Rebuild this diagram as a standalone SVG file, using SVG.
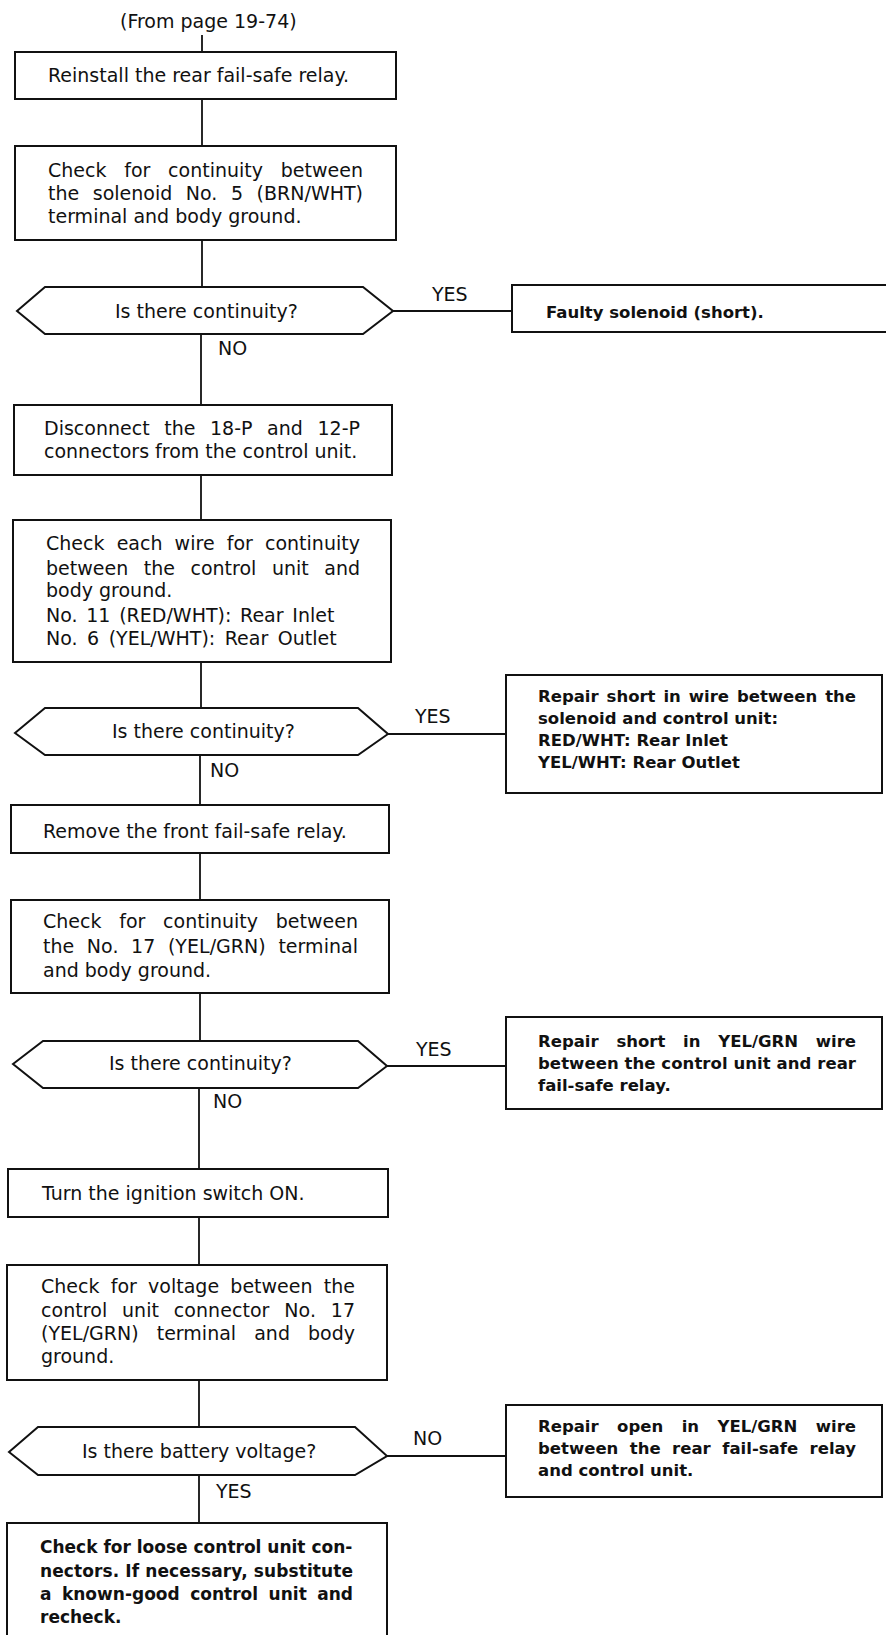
<svg xmlns="http://www.w3.org/2000/svg" width="886" height="1635" viewBox="0 0 886 1635">
<style>
.bx{fill:#fff;stroke:#111;stroke-width:2}
.op{fill:none;stroke:#111;stroke-width:2}
.cn{fill:none;stroke:#111;stroke-width:1.8}
text{font-family:"DejaVu Sans","Liberation Sans",Arial,sans-serif;fill:#111}
.t{font-size:19px}
.b{font-size:16.5px;font-weight:bold}
.bb{font-size:17px;font-weight:bold}
.l{font-size:19px}
</style>
<rect width="886" height="1635" fill="#fff"/>
<g id="connectors">
<line class="cn" x1="202" y1="35" x2="202" y2="52"/>
<line class="cn" x1="202" y1="99" x2="202" y2="146"/>
<line class="cn" x1="202" y1="240" x2="202" y2="287"/>
<line class="cn" x1="393" y1="311" x2="512" y2="311"/>
<line class="cn" x1="201" y1="334" x2="201" y2="405"/>
<line class="cn" x1="201" y1="475" x2="201" y2="520"/>
<line class="cn" x1="201" y1="662" x2="201" y2="708"/>
<line class="cn" x1="388" y1="734" x2="506" y2="734"/>
<line class="cn" x1="200" y1="755" x2="200" y2="805"/>
<line class="cn" x1="200" y1="853" x2="200" y2="900"/>
<line class="cn" x1="200" y1="993" x2="200" y2="1041"/>
<line class="cn" x1="387" y1="1066" x2="506" y2="1066"/>
<line class="cn" x1="199" y1="1088" x2="199" y2="1169"/>
<line class="cn" x1="199" y1="1217" x2="199" y2="1265"/>
<line class="cn" x1="199" y1="1380" x2="199" y2="1427"/>
<line class="cn" x1="387" y1="1456" x2="506" y2="1456"/>
<line class="cn" x1="199" y1="1475" x2="199" y2="1523"/>
<text class="l" x="432" y="301">YES</text>
<text class="l" x="218" y="355">NO</text>
<text class="l" x="415" y="723">YES</text>
<text class="l" x="210" y="777">NO</text>
<text class="l" x="416" y="1056">YES</text>
<text class="l" x="213" y="1108">NO</text>
<text class="l" x="413" y="1445">NO</text>
<text class="l" x="216" y="1498">YES</text>
</g>
<g id="start">
<text class="t" x="120" y="28">(From page 19-74)</text>
</g>
<g id="n1">
<rect class="bx" x="15" y="52" width="381" height="47"/>
<text class="t" x="48" y="82">Reinstall the rear fail-safe relay.</text>
</g>
<g id="n2">
<rect class="bx" x="15" y="146" width="381" height="94"/>
<text class="t" x="48" y="177" word-spacing="11.7" textLength="315" lengthAdjust="spacing">Check for continuity between</text>
<text class="t" x="48" y="200" word-spacing="7.5" textLength="315" lengthAdjust="spacing">the solenoid No. 5 (BRN/WHT)</text>
<text class="t" x="48" y="223">terminal and body ground.</text>
</g>
<g id="d1">
<polygon class="bx" points="17,311 45,287 363,287 393,311 363,334 45,334"/>
<text class="t" x="115" y="318">Is there continuity?</text>
</g>
<g id="r1">
<path class="op" d="M890,285 H512 V332 H890"/>
<text class="b" x="546" y="318">Faulty solenoid (short).</text>
</g>
<g id="n3">
<rect class="bx" x="14" y="405" width="378" height="70"/>
<text class="t" x="44" y="435" word-spacing="8.5" textLength="316" lengthAdjust="spacing">Disconnect the 18-P and 12-P</text>
<text class="t" x="44" y="458">connectors from the control unit.</text>
</g>
<g id="n4">
<rect class="bx" x="13" y="520" width="378" height="142"/>
<text class="t" x="46" y="550" word-spacing="6" textLength="314" lengthAdjust="spacing">Check each wire for continuity</text>
<text class="t" x="46" y="575" word-spacing="9.5" textLength="314" lengthAdjust="spacing">between the control unit and</text>
<text class="t" x="46" y="597">body ground.</text>
<text class="t" x="46" y="622" word-spacing="2.7">No. 11 (RED/WHT): Rear Inlet</text>
<text class="t" x="46" y="645" word-spacing="3.5">No. 6 (YEL/WHT): Rear Outlet</text>
</g>
<g id="d2">
<polygon class="bx" points="15,733 45,708 358,708 388,734 358,755 45,755"/>
<text class="t" x="112" y="738">Is there continuity?</text>
</g>
<g id="r2">
<rect class="bx" x="506" y="675" width="376" height="118"/>
<text class="b" x="538" y="702" word-spacing="2.2" textLength="318" lengthAdjust="spacing">Repair short in wire between the</text>
<text class="b" x="538" y="724">solenoid and control unit:</text>
<text class="b" x="538" y="746">RED/WHT: Rear Inlet</text>
<text class="b" x="538" y="768">YEL/WHT: Rear Outlet</text>
</g>
<g id="n5">
<rect class="bx" x="11" y="805" width="378" height="48"/>
<text class="t" x="43" y="838">Remove the front fail-safe relay.</text>
</g>
<g id="n6">
<rect class="bx" x="11" y="900" width="378" height="93"/>
<text class="t" x="43" y="928" word-spacing="11.7" textLength="315" lengthAdjust="spacing">Check for continuity between</text>
<text class="t" x="43" y="953" word-spacing="6.5" textLength="315" lengthAdjust="spacing">the No. 17 (YEL/GRN) terminal</text>
<text class="t" x="43" y="977">and body ground.</text>
</g>
<g id="d3">
<polygon class="bx" points="13,1064 43,1041 358,1041 387,1066 358,1088 43,1088"/>
<text class="t" x="109" y="1070">Is there continuity?</text>
</g>
<g id="r3">
<rect class="bx" x="506" y="1017" width="376" height="92"/>
<text class="b" x="538" y="1047" word-spacing="12" textLength="318" lengthAdjust="spacing">Repair short in YEL/GRN wire</text>
<text class="b" x="538" y="1069" textLength="318" lengthAdjust="spacing">between the control unit and rear</text>
<text class="b" x="538" y="1091">fail-safe relay.</text>
</g>
<g id="n7">
<rect class="bx" x="8" y="1169" width="380" height="48"/>
<text class="t" x="42" y="1200">Turn the ignition switch ON.</text>
</g>
<g id="n8">
<rect class="bx" x="7" y="1265" width="380" height="115"/>
<text class="t" x="41" y="1293" word-spacing="5.2" textLength="314" lengthAdjust="spacing">Check for voltage between the</text>
<text class="t" x="41" y="1317" word-spacing="8.7" textLength="314" lengthAdjust="spacing">control unit connector No. 17</text>
<text class="t" x="41" y="1340" word-spacing="12" textLength="314" lengthAdjust="spacing">(YEL/GRN) terminal and body</text>
<text class="t" x="41" y="1363">ground.</text>
</g>
<g id="d4">
<polygon class="bx" points="9,1452 38,1427 355,1427 387,1456 355,1475 38,1475"/>
<text class="t" x="82" y="1458">Is there battery voltage?</text>
</g>
<g id="r4">
<rect class="bx" x="506" y="1405" width="376" height="92"/>
<text class="b" x="538" y="1432" word-spacing="12.7" textLength="318" lengthAdjust="spacing">Repair open in YEL/GRN wire</text>
<text class="b" x="538" y="1454" word-spacing="5.7" textLength="318" lengthAdjust="spacing">between the rear fail-safe relay</text>
<text class="b" x="538" y="1476">and control unit.</text>
</g>
<g id="n9">
<path class="op" d="M7,1640 V1523 H387 V1640"/>
<text class="bb" x="40" y="1553">Check for loose control unit con-</text>
<text class="bb" x="40" y="1577" textLength="313" lengthAdjust="spacing">nectors. If necessary, substitute</text>
<text class="bb" x="40" y="1600" word-spacing="4.5" textLength="313" lengthAdjust="spacing">a known-good control unit and</text>
<text class="bb" x="40" y="1623">recheck.</text>
</g>
</svg>
